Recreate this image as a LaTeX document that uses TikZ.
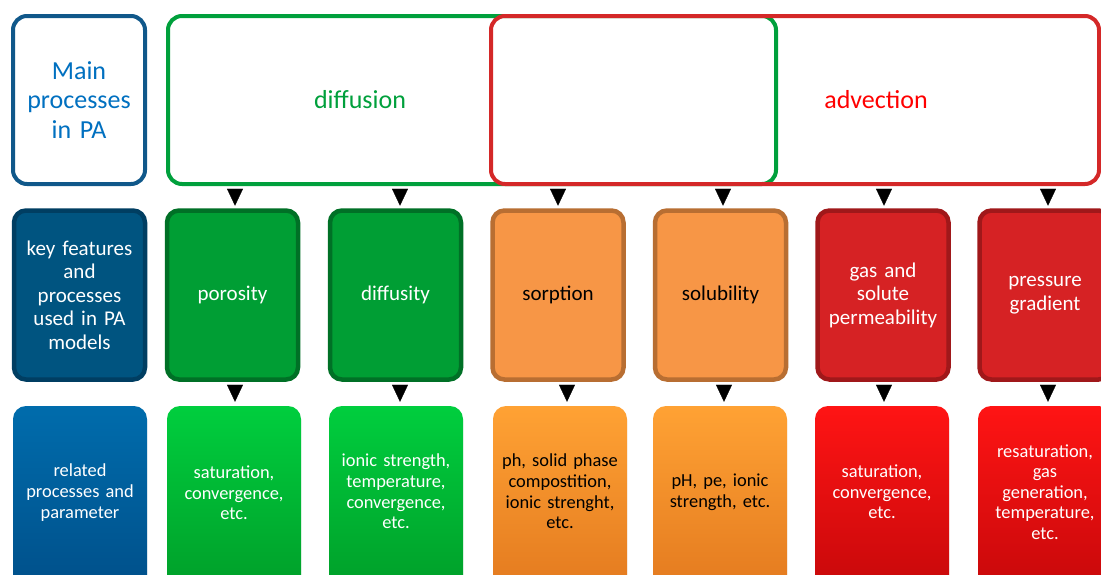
\documentclass[tikz,border=0pt]{standalone}
\usepackage{fontspec}
\setmainfont{Carlito}
\usetikzlibrary{arrows.meta,shadows,calc}
\definecolor{mainblue}{RGB}{16,88,138}
\definecolor{textblue}{RGB}{0,112,192}
\definecolor{diffgreen}{RGB}{0,160,60}
\definecolor{advred}{RGB}{212,40,40}
\definecolor{advtext}{RGB}{255,0,0}
\definecolor{kfill}{RGB}{0,84,128}\definecolor{kdraw}{RGB}{0,62,98}
\definecolor{gfill}{RGB}{0,158,52}\definecolor{gdraw}{RGB}{0,112,38}
\definecolor{ofill}{RGB}{247,150,70}\definecolor{odraw}{RGB}{184,110,50}
\definecolor{rfill}{RGB}{214,34,36}\definecolor{rdraw}{RGB}{160,24,26}
\definecolor{btop}{RGB}{0,108,172}\definecolor{bbot}{RGB}{0,78,136}
\definecolor{gtop}{RGB}{0,206,62}\definecolor{gbot}{RGB}{0,156,40}
\definecolor{otop}{RGB}{255,162,52}\definecolor{obot}{RGB}{226,120,30}
\definecolor{rtop}{RGB}{255,20,20}\definecolor{rbot}{RGB}{196,8,10}
\begin{document}
\begin{tikzpicture}[x=1pt,y=-1pt,
  topbox/.style={draw, line width=4pt, rounded corners=14pt, minimum height=168pt, inner sep=0pt},
  toptext/.style={anchor=base, font=\fontsize{26}{29.5}\selectfont},
  midbox/.style={draw, line width=4.5pt, rounded corners=12pt, minimum width=131pt, minimum height=169pt, inner sep=0pt, text width=128pt, align=center, font=\fontsize{21}{23.5}\selectfont},
  greenmid/.style={midbox, fill=gfill, draw=gdraw, text=white},
  orangemid/.style={midbox, fill=ofill, draw=odraw, text=black},
  redmid/.style={midbox, fill=rfill, draw=rdraw, text=white},
  botbox/.style={rounded corners=13pt, minimum width=134pt, minimum height=194pt, inner sep=0pt,
    drop shadow={opacity=0.3, shadow xshift=0pt, shadow yshift=-1.5pt}},
  bottext/.style={text width=132pt, align=center, inner sep=0pt, font=\fontsize{18.4}{20.6}\selectfont},
  arr/.style={-{Triangle[width=16pt,length=17pt]}, line width=0.3pt, black}
]
\useasboundingbox (0,0) rectangle (1101,574);
\clip (0,0) rectangle (1101,574);
\fill[white] (0,0) rectangle (1101,574);

% top row
\node[topbox, draw=mainblue, minimum width=132pt, text width=126pt, align=center,
  text=textblue, font=\fontsize{26}{29.5}\selectfont] (main) at (79,100) {Main\\processes\\in PA};
\node[topbox, draw=diffgreen, minimum width=608pt] (diffbox) at (472,100) {};
\node[topbox, draw=advred, minimum width=608pt] (advbox) at (795,100) {};
\node[toptext, text=diffgreen] (difflabel) at (360,108) {diffusion};
\node[toptext, text=advtext] (advlabel) at (876,108) {advection};

% middle row
\node[midbox, fill=kfill, draw=kdraw, text=white] (key) at (79.5,295) {key features\\and\\processes\\used in PA\\models};
\node[greenmid] (poro) at (232.5,295) {porosity};
\node[greenmid] (diffu) at (395.5,295) {diffusity};
\node[orangemid] (sorp) at (558,295) {sorption};
\node[orangemid] (solu) at (720.5,295) {solubility};
\node[redmid] (gas) at (883,295) {gas and\\solute\\permeability};
\node[redmid] (press) at (1045,295) {\raisebox{-2.5pt}{\parbox{128pt}{\centering pressure\\gradient}}};

% bottom row
\node[botbox, top color=btop, bottom color=bbot] (rel) at (80,503) {};
\node[botbox, top color=gtop, bottom color=gbot] (sat1) at (234,503) {};
\node[botbox, top color=gtop, bottom color=gbot] (ion) at (396,503) {};
\node[botbox, top color=otop, bottom color=obot] (ph) at (560,503) {};
\node[botbox, top color=otop, bottom color=obot] (phpe) at (720,503) {};
\node[botbox, top color=rtop, bottom color=rbot] (sat2) at (882,503) {};
\node[botbox, top color=rtop, bottom color=rbot] (resat) at (1045,503) {};

\node[bottext, text=white] (relt) at (rel.center |- 0,492.5) {related\\processes and\\parameter};
\node[bottext, text=white] (sat1t) at (sat1.center |- 0,493) {saturation,\\convergence,\\etc.};
\node[bottext, text=white] (iont) at (ion.center |- 0,491.5) {ionic strength,\\temperature,\\convergence,\\etc.};
\node[bottext, text=black] (pht) at (ph.center |- 0,491.5) {ph, solid phase\\compostition,\\ionic strenght,\\etc.};
\node[bottext, text=black] (phpet) at (phpe.center |- 0,492.5) {pH, pe, ionic\\strength, etc.};
\node[bottext, text=white] (sat2t) at (sat2.center |- 0,492) {saturation,\\convergence,\\etc.};
\node[bottext, text=white] (resatt) at (resat.center |- 0,492) {resaturation,\\gas\\generation,\\temperature,\\etc.};

% arrows top -> middle
\draw[arr] ($(diffbox.south -| poro.north)+(2.5,5)$) -- ($(poro.north)+(2.5,-2.5)$);
\draw[arr] ($(diffbox.south -| diffu.north)+(4.5,5)$) -- ($(diffu.north)+(4.5,-2.5)$);
\draw[arr] ($(advbox.south -| sorp.north)+(0,5)$) -- ($(sorp.north)+(0,-2.5)$);
\draw[arr] ($(advbox.south -| solu.north)+(2.5,5)$) -- ($(solu.north)+(2.5,-2.5)$);
\draw[arr] ($(advbox.south -| gas.north)+(1,5)$) -- ($(gas.north)+(1,-2.5)$);
\draw[arr] ($(advbox.south -| press.north)+(3,5)$) -- ($(press.north)+(3,-2.5)$);

% arrows middle -> bottom
\draw[arr] ($(poro.south)+(2.5,5.5)$) -- ($(poro.south |- sat1.north)+(2.5,-4)$);
\draw[arr] ($(diffu.south)+(4.5,5.5)$) -- ($(diffu.south |- ion.north)+(4.5,-4)$);
\draw[arr] ($(sorp.south)+(9,5.5)$) -- ($(sorp.south |- ph.north)+(9,-4)$);
\draw[arr] ($(solu.south)+(3.5,5.5)$) -- ($(solu.south |- phpe.north)+(3.5,-4)$);
\draw[arr] ($(gas.south)+(1,5.5)$) -- ($(gas.south |- sat2.north)+(1,-4)$);
\draw[arr] ($(press.south)+(3,5.5)$) -- ($(press.south |- resat.north)+(3,-4)$);
\end{tikzpicture}
\end{document}
